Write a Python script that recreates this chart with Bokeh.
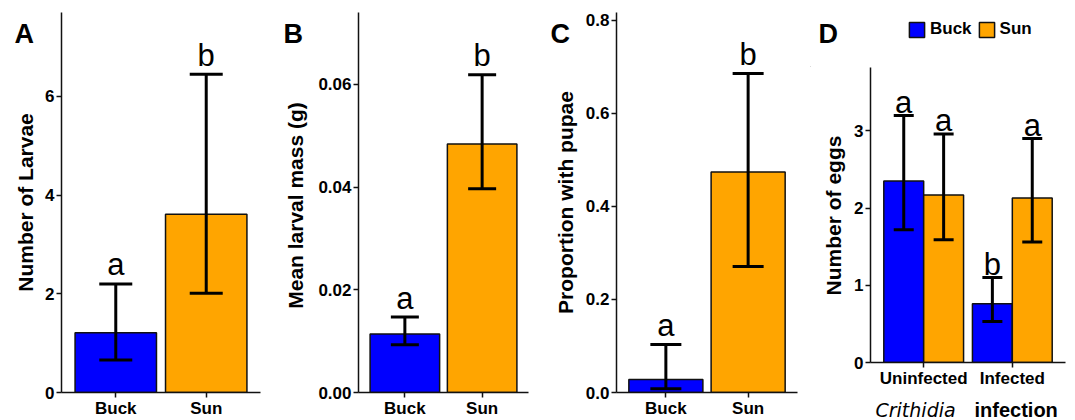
import math
from bokeh.plotting import figure
from bokeh.layouts import row, column
from bokeh.models import (FactorRange, Range1d, ColumnDataSource, Whisker, TeeHead,
                          Legend, LegendItem, FixedTicker, NumeralTickFormatter)
from bokeh.transform import dodge
from bokeh.core.properties import value
from bokeh.embed import file_html
from bokeh.resources import INLINE

# ---------------- data ----------------
sites = ["Buck", "Sun"]
site_colors = ["#0000FF", "#FFA500"]

larvae_mean = [1.21, 3.61]
larvae_lower = [0.66, 2.01]
larvae_upper = [2.20, 6.45]
larvae_letters = ["a", "b"]

mass_mean = [0.0114, 0.0484]
mass_lower = [0.0093, 0.0397]
mass_upper = [0.0147, 0.0619]
mass_letters = ["a", "b"]

pupae_mean = [0.028, 0.474]
pupae_lower = [0.008, 0.271]
pupae_upper = [0.103, 0.686]
pupae_letters = ["a", "b"]

infection = ["Uninfected", "Infected"]
eggs_buck_mean = [2.35, 0.76]
eggs_buck_lower = [1.72, 0.53]
eggs_buck_upper = [3.20, 1.10]
eggs_buck_letters = ["a", "b"]
eggs_sun_mean = [2.17, 2.13]
eggs_sun_lower = [1.59, 1.56]
eggs_sun_upper = [2.96, 2.90]
eggs_sun_letters = ["a", "a"]

panel_tags = ["A", "B", "C", "D"]
y_titles = ["Number of Larvae", "Mean larval mass (g)", "Proportion with pupae", "Number of eggs"]
x_title_parts = ["Crithidia", "infection"]

# ---------------- style ----------------
FONT = "Liberation Sans"
H = 420
INK = "#111111"
SIDE_W = 40


def blank_fig(width, height):
    f = figure(width=width, height=height, x_range=Range1d(0, width), y_range=Range1d(0, height),
               output_backend="svg", toolbar_location=None, x_axis_location=None,
               y_axis_location=None, min_border_left=0, min_border_right=0,
               min_border_top=0, min_border_bottom=0)
    f.xgrid.visible = False
    f.ygrid.visible = False
    f.outline_line_color = None
    f.background_fill_color = "white"
    f.border_fill_color = "white"
    return f


def side_fig(tag, title, title_cy, tag_x=None):
    # left strip holding the panel letter and the rotated y-axis title (page px coords)
    f = blank_fig(SIDE_W, H)
    f.text(x=[24.5], y=[H - title_cy], text=[title], angle=math.pi / 2, text_align="center",
           text_baseline="middle", text_font=value(FONT), text_font_size="21px",
           text_font_style="bold", text_color="black")
    if tag is not None:
        f.text(x=[tag_x], y=[H - 33], text=[tag], text_align="left", text_baseline="alphabetic",
               text_font=value(FONT), text_font_size="27px", text_font_style="bold",
               text_color="black")
    return f


def style_axes(p, ticks, fmt):
    for ax in (p.xaxis[0], p.yaxis[0]):
        ax.axis_line_color = INK
        ax.axis_line_width = 1.5
        ax.major_tick_line_color = INK
        ax.major_tick_line_width = 1.5
        ax.major_tick_in = 0
        ax.major_tick_out = 5
        ax.minor_tick_line_color = None
        ax.major_label_text_font = FONT
        ax.major_label_text_font_size = "17px"
        ax.major_label_text_font_style = "bold"
        ax.major_label_text_color = "black"
    p.xaxis[0].major_label_standoff = 1
    p.yaxis[0].major_label_standoff = 2
    p.yaxis[0].ticker = FixedTicker(ticks=ticks)
    p.yaxis[0].formatter = NumeralTickFormatter(format=fmt)
    p.xgrid.visible = False
    p.ygrid.visible = False
    p.outline_line_color = None
    p.background_fill_color = "white"
    p.border_fill_color = "white"


def simple_panel(width, left, right, means, lowers, uppers, letters, ymax, ticks, fmt, head):
    src = ColumnDataSource(dict(x=sites, top=means, lower=lowers, upper=uppers,
                                color=site_colors, letter=letters))
    p = figure(width=width, height=H,
               x_range=FactorRange(*sites, range_padding=0.1, range_padding_units="absolute"),
               y_range=Range1d(0, ymax), output_backend="svg", toolbar_location=None,
               min_border_left=left, min_border_right=right,
               min_border_top=12, min_border_bottom=27)
    p.vbar(x="x", top="top", width=0.9, source=src, fill_color="color",
           line_color=INK, line_width=1.5)
    p.add_layout(Whisker(base="x", upper="upper", lower="lower", source=src, line_width=3,
                         line_color="black", level="overlay",
                         upper_head=TeeHead(size=head, line_width=3, line_color="black"),
                         lower_head=TeeHead(size=head, line_width=3, line_color="black")))
    p.text(x="x", y="upper", text="letter", source=src, text_align="center",
           text_baseline="alphabetic", y_offset=-19, text_font=value(FONT),
           text_font_size="31px", text_color="black")
    style_axes(p, ticks, fmt)
    return p


sA = side_fig(panel_tags[0], y_titles[0], 202, 14)
pA = simple_panel(270 - SIDE_W, 61 - SIDE_W, 10, larvae_mean, larvae_lower, larvae_upper,
                  larvae_letters, 7.7, [0, 2, 4, 6], "0", 33)
sB = side_fig(panel_tags[1], y_titles[1], 205, 13)
pB = simple_panel(270 - SIDE_W, 88 - SIDE_W, 12, mass_mean, mass_lower, mass_upper,
                  mass_letters, 0.074, [0, 0.02, 0.04, 0.06], "0.00", 28)
sC = side_fig(panel_tags[2], y_titles[2], 202, 10)
pC = simple_panel(270 - SIDE_W, 76 - SIDE_W, 13, pupae_mean, pupae_lower, pupae_upper,
                  pupae_letters, 0.817, [0, 0.2, 0.4, 0.6, 0.8], "0.0", 31)

# ---------------- panel D ----------------
D_W, D_TOP, D_BOTSTRIP = 265, 67, 30
D_MID = H - D_TOP - D_BOTSTRIP
srcD = ColumnDataSource(dict(inf=infection,
                             buck=eggs_buck_mean, buck_lo=eggs_buck_lower, buck_hi=eggs_buck_upper,
                             buck_let=eggs_buck_letters,
                             sun=eggs_sun_mean, sun_lo=eggs_sun_lower, sun_hi=eggs_sun_upper,
                             sun_let=eggs_sun_letters))
pD = figure(width=D_W - SIDE_W, height=D_MID,
            x_range=FactorRange(*infection, range_padding=0.1, range_padding_units="absolute"),
            y_range=Range1d(0, 3.82), output_backend="svg", toolbar_location=None,
            min_border_left=60 - SIDE_W, min_border_right=10,
            min_border_top=0, min_border_bottom=D_MID - 296)
groups = [("buck", -0.225, site_colors[0]), ("sun", 0.225, site_colors[1])]
for key, off, col in groups:
    pD.vbar(x=dodge("inf", off, range=pD.x_range), top=key, width=0.45, source=srcD,
            fill_color=col, line_color=INK, line_width=1.5)
    pD.add_layout(Whisker(base=dodge("inf", off, range=pD.x_range), upper=key + "_hi",
                          lower=key + "_lo", source=srcD, line_width=3, line_color="black",
                          level="overlay",
                          upper_head=TeeHead(size=20, line_width=3, line_color="black"),
                          lower_head=TeeHead(size=20, line_width=3, line_color="black")))
    pD.text(x=dodge("inf", off, range=pD.x_range), y=key + "_hi", text=key + "_let",
            source=srcD, text_align="center", text_baseline="alphabetic", y_offset=-13,
            text_font=value(FONT), text_font_size="31px", text_color="black")
style_axes(pD, [0, 1, 2, 3], "0")

sD = blank_fig(SIDE_W, D_MID)
sD.text(x=[22.5], y=[D_MID - (215 - D_TOP)], text=[y_titles[3]], angle=math.pi / 2,
        text_align="center", text_baseline="middle", text_font=value(FONT),
        text_font_size="21px", text_font_style="bold", text_color="black")

# top strip: panel letter + legend (legend keys use renderers parked far outside the view)
tD = blank_fig(D_W, D_TOP)
tD.text(x=[8], y=[D_TOP - 33], text=[panel_tags[3]], text_align="left",
        text_baseline="alphabetic", text_font=value(FONT), text_font_size="27px",
        text_font_style="bold", text_color="black")
key_src = ColumnDataSource(dict(x=[-5000], top=[-5000], bottom=[-5001]))
key_renderers = [tD.vbar(x="x", top="top", bottom="bottom", width=1, source=key_src,
                         fill_color=c, line_color=INK, line_width=1.5)
                 for c in site_colors]
legend = Legend(items=[LegendItem(label=s, renderers=[r]) for s, r in zip(sites, key_renderers)],
                orientation="horizontal", location=(97, D_TOP - 39),
                glyph_width=19, glyph_height=19, label_height=19,
                label_text_font=FONT, label_text_font_size="17px",
                label_text_font_style="bold", label_text_color="black",
                label_standoff=4, spacing=5,
                padding=0, margin=0, border_line_color=None, background_fill_alpha=0)
tD.add_layout(legend)

# bottom strip: x-axis title with italic genus name
bD = blank_fig(D_W, D_BOTSTRIP)
bD.text(x=[65], y=[D_BOTSTRIP - 19], text=[x_title_parts[0]], text_align="left",
        text_baseline="alphabetic", text_font=value("DejaVu Sans"), text_font_size="19px",
        text_font_style="italic", text_color="black")
bD.text(x=[164], y=[D_BOTSTRIP - 19], text=[x_title_parts[1]], text_align="left",
        text_baseline="alphabetic", text_font=value(FONT), text_font_size="20px",
        text_font_style="bold", text_color="black")

colD = column(tD, row(column(sD), column(pD)), bD)
layout = row(column(sA), column(pA), column(sB), column(pB), column(sC), column(pC), column(colD))
open("out.html", "w").write(file_html(layout, INLINE))
